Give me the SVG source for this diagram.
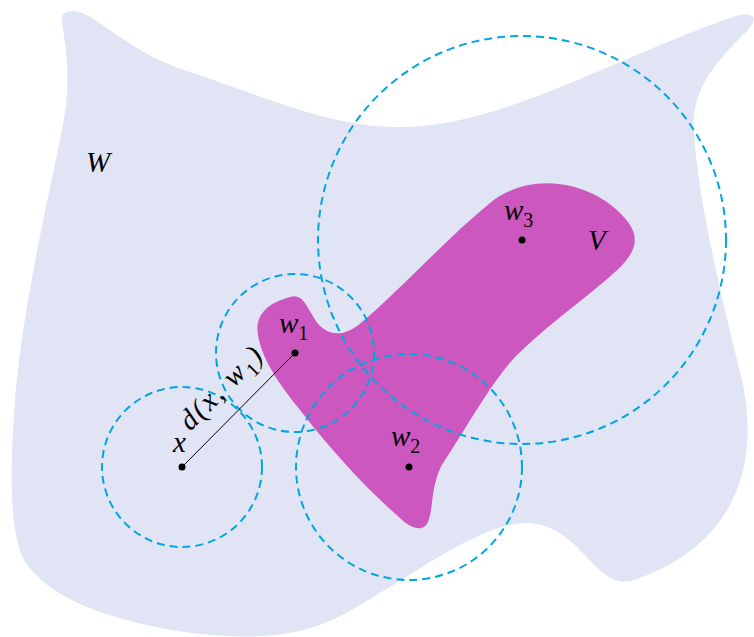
<svg xmlns="http://www.w3.org/2000/svg" width="754" height="637" viewBox="0 0 754 637">
<style>
.lbl{font-family:"Liberation Serif","DejaVu Serif",serif;font-style:italic;fill:#000;font-size:29px}
.sub{font-family:"Liberation Serif","DejaVu Serif",serif;font-style:normal;font-size:20px}
.ball{fill:none;stroke:#00A6DE;stroke-width:2;stroke-dasharray:8 5}
.pt{fill:#000}
</style>
<rect width="754" height="637" fill="#fff"/>
<g id="W">
<path fill="#E1E4F5" d="M 62,22 C 60,8 76,8 92,18 C 120,36 145,58 190,72 C 260,95 330,128 400,127 C 500,127 610,60 730,18 C 752,10 762,16 745,33 C 715,62 690,92 694,132 C 698,200 722,300 742,380 C 762,470 730,545 640,578 C 612,590 600,570 578,548 C 560,530 540,520 515,524 C 470,532 420,570 360,605 C 320,630 280,642 200,634 C 120,624 55,602 28,566 C 8,540 10,470 15,400 C 22,310 48,200 62,130 C 72,80 66,50 62,22 Z"/>
<text class="lbl" x="86" y="172" font-size="33">W</text>
</g>
<g id="V">
<path fill="#CC57BF" d="M 258,335 C 254,312 272,302 290,297 C 302,293 306,305 314,318 C 324,335 342,340 362,322 C 400,290 445,240 490,203 C 530,170 595,180 628,222 C 645,245 628,262 600,285 C 572,308 540,332 515,357 C 490,384 465,430 445,460 C 430,482 434,508 428,522 C 423,533 410,528 400,518 C 370,492 335,455 300,410 C 280,385 262,360 258,335 Z"/>
<text class="lbl" x="588" y="250" font-size="30">V</text>
</g>
<g id="balls">
<circle class="ball" cx="182" cy="467" r="80"/>
<circle class="ball" cx="295" cy="353" r="79"/>
<circle class="ball" cx="409" cy="467" r="113"/>
<circle class="ball" cx="522" cy="240" r="204"/>
</g>
<g id="connectors">
<line x1="182" y1="467" x2="295" y2="353" stroke="#000" stroke-width="1"/>
<text class="lbl" transform="translate(228,394) rotate(-45)" text-anchor="middle" letter-spacing="2" font-size="30">d(x, w<tspan class="sub" dy="7">1</tspan><tspan dy="-7">)</tspan></text>
</g>
<g id="x">
<circle class="pt" cx="182" cy="467" r="3.5"/>
<text class="lbl" x="173" y="452">x</text>
</g>
<g id="w1">
<circle class="pt" cx="295" cy="353" r="3.5"/>
<text class="lbl" x="279" y="333">w<tspan class="sub" dy="7">1</tspan></text>
</g>
<g id="w2">
<circle class="pt" cx="409" cy="467" r="3.5"/>
<text class="lbl" x="391" y="446">w<tspan class="sub" dy="7">2</tspan></text>
</g>
<g id="w3">
<circle class="pt" cx="522" cy="240" r="3.5"/>
<text class="lbl" x="504" y="220">w<tspan class="sub" dy="7">3</tspan></text>
</g>
</svg>
